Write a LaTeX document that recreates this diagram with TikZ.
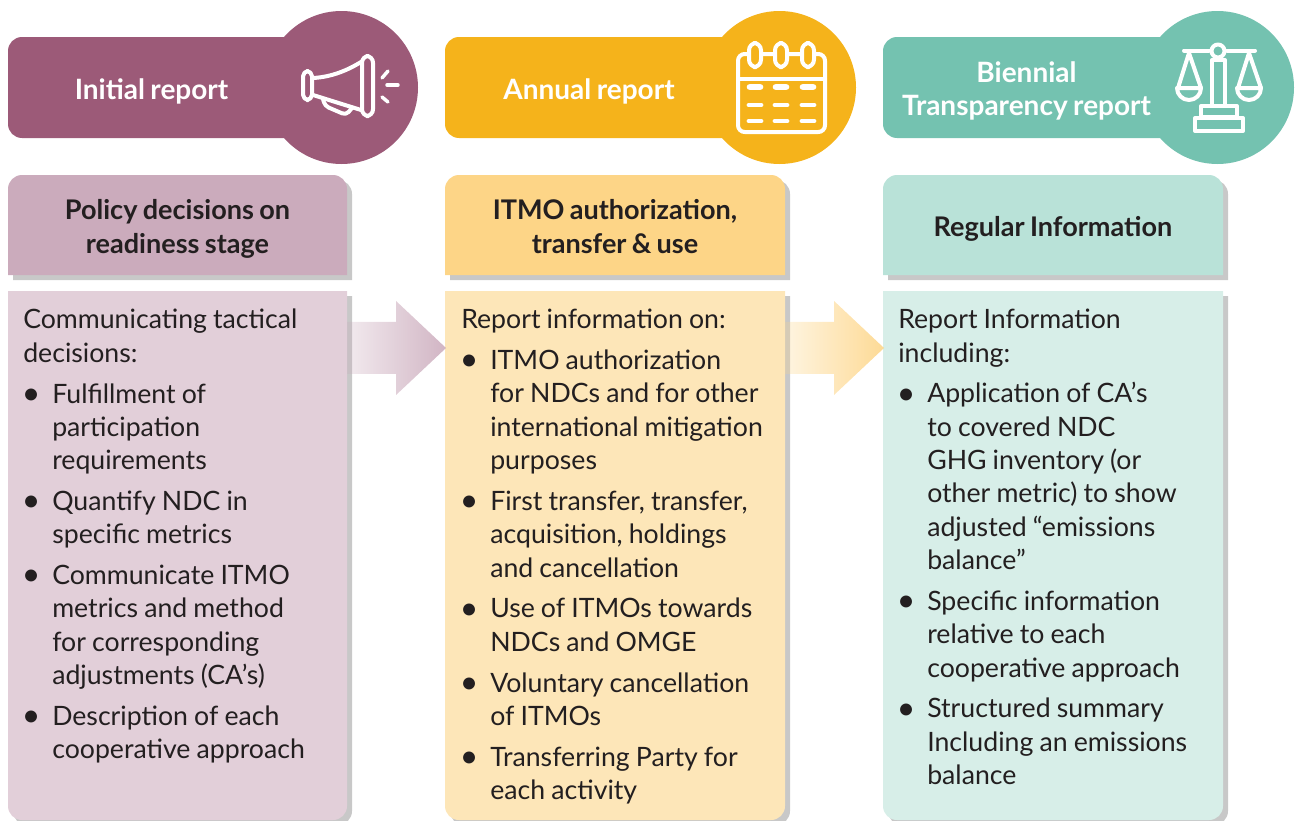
\documentclass[tikz,border=0pt]{standalone}
\usepackage{fontspec}
\setmainfont{Lato}[BoldFeatures={WordSpace=0.8}]
\usetikzlibrary{fadings}
\definecolor{plumdark}{HTML}{9C5A78}
\definecolor{plummid}{HTML}{CBABBC}
\definecolor{plumpale}{HTML}{E2CFD9}
\definecolor{amberdark}{HTML}{F5B31B}
\definecolor{ambermid}{HTML}{FDD587}
\definecolor{amberpale}{HTML}{FDE6B8}
\definecolor{greendark}{HTML}{74C2B0}
\definecolor{greenmid}{HTML}{B9E2D8}
\definecolor{greenpale}{HTML}{D7EEE8}
\definecolor{shadowgray}{HTML}{C8C8C8}
\definecolor{inkdark}{HTML}{231F20}
\tikzfading[name=arrowfade,left color=transparent!75,right color=transparent!12]
\newcommand{\panelfont}{\fontsize{20}{25}\selectfont\fontdimen2\font=4.6pt\relax\spaceskip=4.6pt\relax}
\newcommand{\panelbullet}{\makebox[12pt][c]{\raisebox{-1pt}{\fontsize{24}{24}\selectfont\textbullet}}}
\newenvironment{panellist}{\begin{list}{\panelbullet}{\setlength{\leftmargin}{21.75pt}\setlength{\labelwidth}{12pt}\setlength{\labelsep}{9.75pt}\setlength{\topsep}{5.6pt}\setlength{\partopsep}{0pt}\setlength{\parsep}{0pt}\setlength{\itemsep}{5.6pt}}}{\end{list}}
\begin{document}
\begin{tikzpicture}[x=0.75pt,y=-0.75pt,
                    title/.style={text=white,font=\fontsize{21}{24.8}\selectfont\bfseries,align=center},
                    subtitle/.style={text=inkdark,font=\fontsize{20.3}{25.5}\selectfont\bfseries,align=center},
                    bodytext/.style={text=inkdark,font=\panelfont,execute at begin node=\panelfont,anchor=north west,inner sep=0pt,text width=#1},
                    icon/.style={draw=white,line width=3pt,line cap=round,line join=round},
                    thin icon/.style={icon,line width=2.6pt}]
    \useasboundingbox (0,0) rectangle (1297,821);
    \clip (0,0) rectangle (1297,821);

    % header bars
    \fill[plumdark,rounded corners=10.5pt] (8,37) rectangle (341,138);
    \fill[plumdark] (341.5,87.5) circle (76.5);
    \fill[amberdark,rounded corners=10.5pt] (445,37) rectangle (779,138);
    \fill[amberdark] (779.5,87.5) circle (76.5);
    \fill[greendark,rounded corners=10.5pt] (883,37) rectangle (1217,138);
    \fill[greendark] (1217.5,87.5) circle (76.5);

    \node[title] (initial) at (151.5,91) {Initial report};
    \node[title] (annual) at (589,91) {Annual report};
    \node[title] (biennial) at (1026.5,91) {Biennial\\Transparency report};

    % megaphone
    \draw[icon,rounded corners=4pt] (303,71) rectangle (312,100);
    \draw[icon] (313,78) .. controls (332,77) and (348,70) .. (361,62);
    \draw[icon] (313,95) -- (361,110);
    \draw[icon,rounded corners=5pt] (362,56) rectangle (373,116);
    \draw[icon,rounded corners=3pt] (323,99) -- (325,106) -- (346,115) -- (352,108);
    \draw[thin icon] (382,78) -- (388,71);
    \draw[thin icon] (387,85) -- (398,85);
    \draw[thin icon] (382,97) -- (388,102);

    % calendar
    \draw[icon,rounded corners=5pt] (738,54) rectangle (825,132);
    \draw[icon] (738,79) -- (825,79);
    \draw[icon,fill=amberdark,rounded corners=5.5pt] (749,43) rectangle (761,67);
    \draw[icon,fill=amberdark,rounded corners=5.5pt] (775,43) rectangle (787,67);
    \draw[icon,fill=amberdark,rounded corners=5.5pt] (802,43) rectangle (814,67);
    \draw[icon,line width=5pt] (750,87) -- (760,87) (776,87) -- (786,87) (803,87) -- (813,87);
    \draw[thin icon,line width=3.6pt] (749,105) -- (761,105) (775,105) -- (787,105) (802,105) -- (814,105);
    \draw[thin icon,line width=3.6pt] (749,121) -- (761,121) (775,121) -- (787,121) (802,121) -- (814,121);

    % scales
    \draw[icon] (1184,50.5) -- (1209,50.5) (1227,50.5) -- (1255,50.5);
    \draw[icon] (1218,51) circle (6.5);
    \draw[icon] (1212,60) -- (1212,105) (1225,60) -- (1225,105) (1212,60) -- (1225,60);
    \draw[icon] (1201,106) rectangle (1237,117);
    \draw[icon] (1195,118) rectangle (1243,131);
    \draw[icon] (1178,88) -- (1189,53) -- (1201,88);
    \draw[icon] (1177,88) -- (1201,88) arc (0:180:12);
    \draw[icon] (1238,88) -- (1249,53) -- (1261,88);
    \draw[icon] (1237,88) -- (1261,88) arc (0:180:12);

    % sub headers
    \fill[shadowgray] (13,280) [rounded corners=10.5pt] -- (13,180) -- (352,180) [sharp corners] -- (352,280) -- cycle;
    \fill[plummid] (8,275) [rounded corners=10.5pt] -- (8,175) -- (347,175) [sharp corners] -- (347,275) -- cycle;
    \fill[shadowgray] (450,280) [rounded corners=10.5pt] -- (450,180) -- (790,180) [sharp corners] -- (790,280) -- cycle;
    \fill[ambermid] (445,275) [rounded corners=10.5pt] -- (445,175) -- (785,175) [sharp corners] -- (785,275) -- cycle;
    \fill[shadowgray] (888,280) [rounded corners=10.5pt] -- (888,180) -- (1228,180) [sharp corners] -- (1228,280) -- cycle;
    \fill[greenmid] (883,275) [rounded corners=10.5pt] -- (883,175) -- (1223,175) [sharp corners] -- (1223,275) -- cycle;

    \node[subtitle] (policy) at (177.5,229) {Policy decisions on\\readiness stage};
    \node[subtitle] (itmo) at (615,227) {ITMO authorization,\\transfer \& use};
    \node[subtitle] (regular) at (1053,229) {Regular Information};

    % body panels
    \fill[shadowgray] (13,296) -- (352,296) [rounded corners=10.5pt] -- (352,825) -- (13,825) [sharp corners] -- cycle;
    \fill[plumpale] (8,291) -- (347,291) [rounded corners=10.5pt] -- (347,820) -- (8,820) [sharp corners] -- cycle;
    \fill[shadowgray] (450,296) -- (790,296) [rounded corners=10.5pt] -- (790,825) -- (450,825) [sharp corners] -- cycle;
    \fill[amberpale] (445,291) -- (785,291) [rounded corners=10.5pt] -- (785,820) -- (445,820) [sharp corners] -- cycle;
    \fill[shadowgray] (888,296) -- (1228,296) [rounded corners=10.5pt] -- (1228,825) -- (888,825) [sharp corners] -- cycle;
    \fill[greenpale] (883,291) -- (1223,291) [rounded corners=10.5pt] -- (1223,820) -- (883,820) [sharp corners] -- cycle;

    % arrows between panels
    \fill[plummid,path fading=arrowfade] (347,322) -- (396,322) -- (396,301) -- (446,348) -- (396,395) -- (396,374) -- (347,374) -- cycle;
    \fill[ambermid,path fading=arrowfade] (785,322) -- (834,322) -- (834,301) -- (884,348) -- (834,395) -- (834,374) -- (785,374) -- cycle;

    \node[bodytext=243pt] (tactical) at (23,309) {Communicating tactical\\decisions:
        \begin{panellist}
        \item Fulfillment of\\participation\\requirements
        \item Quantify NDC in\\specific metrics
        \item Communicate ITMO\\metrics and method\\for corresponding\\adjustments (CA’s)
        \item Description of each\\cooperative approach
        \end{panellist}};
    \node[bodytext=243pt] (annualinfo) at (461,309) {Report information on:
        \begin{panellist}
        \item ITMO authorization\\for NDCs and for other\\international mitigation\\purposes
        \item First transfer, transfer,\\acquisition, holdings\\and cancellation
        \item Use of ITMOs towards\\NDCs and OMGE
        \item Voluntary cancellation\\of ITMOs
        \item Transferring Party for\\each activity
        \end{panellist}};
    \node[bodytext=243pt] (regularinfo) at (898,309) {Report Information\\including:
        \begin{panellist}
        \item Application of CA’s\\to covered NDC\\GHG inventory (or\\other metric) to show\\adjusted “emissions\\balance”
        \item Specific information\\relative to each\\cooperative approach
        \item Structured summary\\Including an emissions\\balance
        \end{panellist}};
\end{tikzpicture}
\end{document}
